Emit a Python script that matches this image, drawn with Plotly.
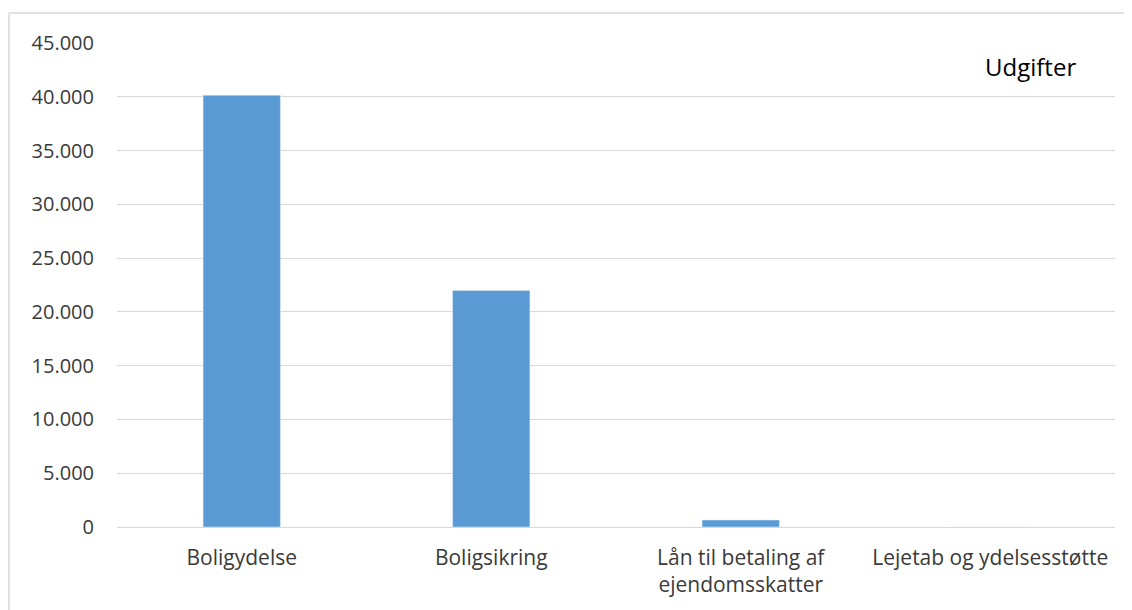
import plotly.graph_objects as go

categories = ["Boligydelse", "Boligsikring", "Lån til betaling af<br>ejendomsskatter", "Lejetab og ydelsesstøtte"]
values = [40150, 22000, 650, 0]
series_name = "Udgifter"
y_ticks = [0, 5000, 10000, 15000, 20000, 25000, 30000, 35000, 40000, 45000]

# the page places the figure 8px from the top-left corner of the window
OFF = 8
W, H = 1132 - OFF, 610 - OFF
L, R, T, B = 117 - OFF, 17, 43 - OFF, 83
pw, ph = W - L - R, H - T - B

fig = go.Figure()
fig.add_trace(go.Bar(x=categories, y=values, name=series_name, marker_color="#5b9bd5",
                     width=0.31, showlegend=False))

def px_x(x):
    return (x - OFF - L) / pw

def px_y(y):
    return (H - B - (y - OFF)) / ph

fig.update_layout(
    width=W, height=H,
    margin=dict(l=L, r=R, t=T, b=B),
    paper_bgcolor="white", plot_bgcolor="white",
    separators=",.",
    font=dict(family="Open Sans, Noto Sans, sans-serif", size=20, color="#3a3a3a"),
    xaxis=dict(showgrid=False, showline=False, ticks="", ticklabelstandoff=16,
               tickfont=dict(size=21, color="#3a3a3a")),
    yaxis=dict(range=[0, 45000], tickvals=y_ticks, tickformat=",d", showgrid=True,
               gridcolor="#d9d9d9", gridwidth=1.3, zeroline=True, zerolinecolor="#d9d9d9",
               zerolinewidth=1.3, showline=False, ticks="", ticklabelstandoff=22,
               tickfont=dict(size=20, color="#3a3a3a")),
    shapes=[
        dict(type="line", xref="paper", yref="paper", x0=px_x(9), x1=px_x(9), y0=px_y(13), y1=px_y(610),
             line=dict(color="#d9d9d9", width=1.5)),
        dict(type="line", xref="paper", yref="paper", x0=px_x(9), x1=px_x(1132), y0=px_y(13), y1=px_y(13),
             line=dict(color="#d9d9d9", width=1.5)),
    ],
    annotations=[
        dict(text=series_name, xref="paper", yref="paper", x=px_x(1030), y=px_y(67),
             xanchor="center", yanchor="middle", showarrow=False,
             font=dict(size=24, color="#000000")),
    ],
)

fig.write_html("out.html")
